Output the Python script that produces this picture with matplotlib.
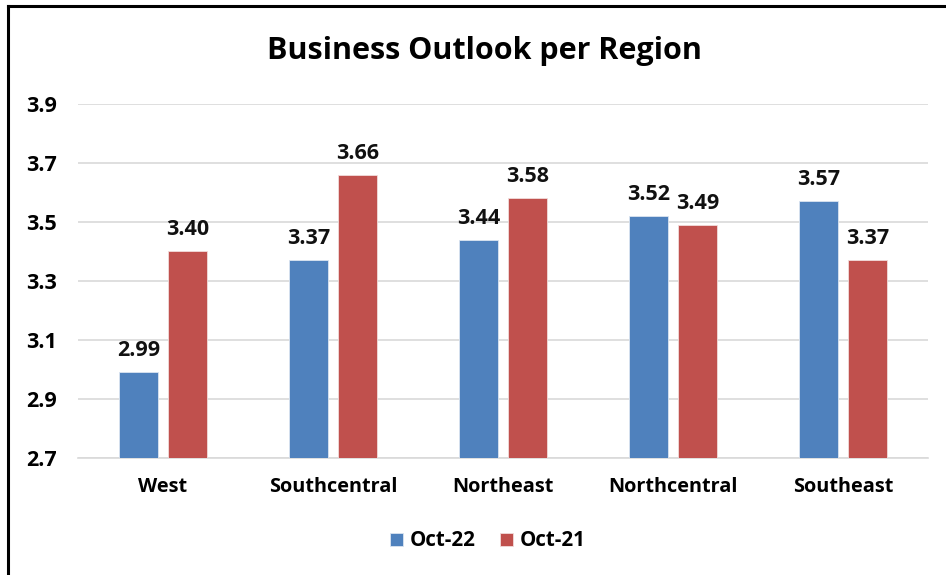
import matplotlib
matplotlib.use('Agg')
import matplotlib.pyplot as plt
from matplotlib.lines import Line2D
import numpy as np

# dados
regioes = ["West", "Southcentral", "Northeast", "Northcentral", "Southeast"]
oct22 = [2.99, 3.37, 3.44, 3.52, 3.57]
oct21 = [3.40, 3.66, 3.58, 3.49, 3.37]
yticks = [2.7, 2.9, 3.1, 3.3, 3.5, 3.7, 3.9]

azul = '#4f81bd'
vermelho = '#c0504d'

plt.rcParams['font.family'] = ['Open Sans', 'DejaVu Sans']

fig = plt.figure(figsize=(9.46, 5.75), dpi=100)
ax = fig.add_axes([78 / 946, 1 - 458 / 575, 850 / 946, 354 / 575])

x = np.arange(len(regioes))
w = 0.23
off = 0.145
b1 = ax.bar(x - off, oct22, w, bottom=0, color=azul, edgecolor='#dbe5f1', linewidth=0.6, label='Oct-22', zorder=3)
b2 = ax.bar(x + off, oct21, w, bottom=0, color=vermelho, edgecolor='#f2dcdb', linewidth=0.6, label='Oct-21', zorder=3)

for barras, vals in ((b1, oct22), (b2, oct21)):
    for b, v in zip(barras, vals):
        ax.annotate(f"{v:.2f}", (b.get_x() + b.get_width() / 2, v), xytext=(0, 8),
                    textcoords='offset points', ha='center', va='bottom',
                    fontsize=15.5, fontweight='bold', color='#111111')

ax.set_ylim(2.7, 3.9)
ax.set_xlim(-0.5, len(regioes) - 0.5)
ax.set_yticks(yticks)
ax.set_yticklabels([f"{t:.1f}" for t in yticks], fontsize=15.5, fontweight='bold')
ax.set_xticks(x)
ax.set_xticklabels(regioes, fontsize=14.3, fontweight='bold')
ax.tick_params(length=0)
ax.tick_params(axis='y', pad=15)
ax.tick_params(axis='x', pad=14)
ax.grid(axis='y', color='#d9d9d9', linewidth=1.2, zorder=0)
for s in ['top', 'right', 'left']:
    ax.spines[s].set_visible(False)
ax.spines['bottom'].set_color('#d9d9d9')
ax.spines['bottom'].set_linewidth(1.2)

fig.text(484 / 946, 1 - 51 / 575, "Business Outlook per Region", ha='center', va='center',
         fontsize=22, fontweight='bold')

fig.legend(handles=[b1, b2], loc='center', bbox_to_anchor=(488 / 946, 1 - 541 / 575),
           ncol=2, frameon=False, prop={'size': 14.8, 'weight': 'bold'},
           handlelength=0.6, handleheight=0.6, handletextpad=0.35, columnspacing=1.2)

# moldura (só topo e esquerda aparecem)
fig.add_artist(Line2D([8 / 946, 8 / 946], [0, 1 - 6 / 575], color='black', linewidth=2.2, transform=fig.transFigure))
fig.add_artist(Line2D([8 / 946, 1], [1 - 6 / 575, 1 - 6 / 575], color='black', linewidth=2.2, transform=fig.transFigure))

fig.savefig('out.png', dpi=100)
